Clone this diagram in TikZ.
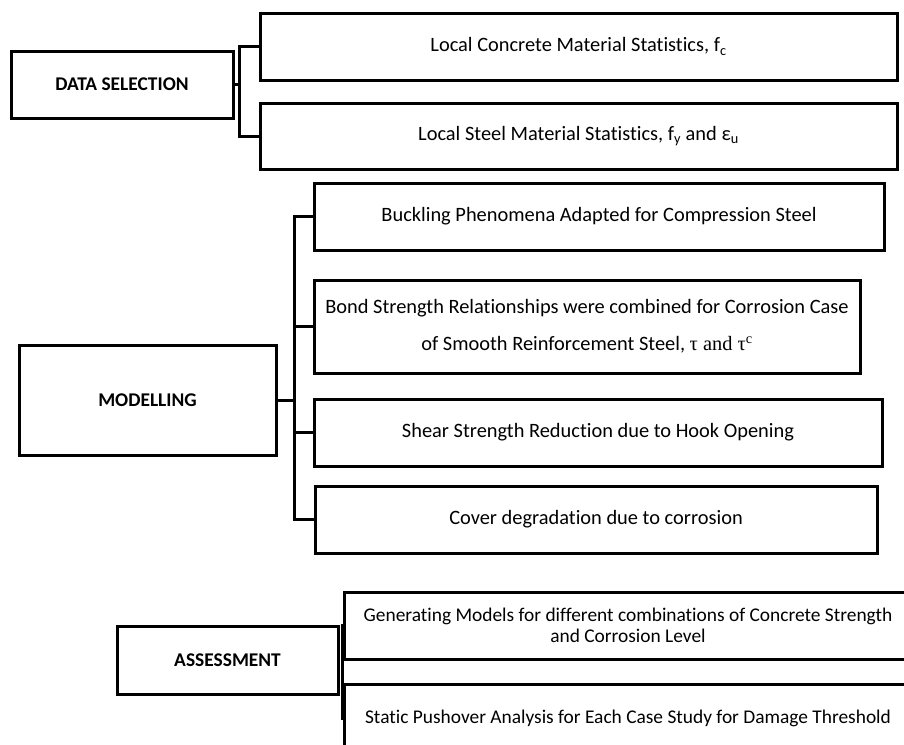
\documentclass[tikz,border=0pt]{standalone}
\usepackage{fontspec}
\setmainfont{Carlito}[Ligatures=NoCommon]
\newfontfamily\serifgreek{Liberation Serif}
\usetikzlibrary{calc}
\begin{document}
\begin{tikzpicture}[x=1pt,y=-1pt,
  box/.style={draw=black,line width=3pt,rectangle,inner sep=0pt,align=center,
    font=\fontsize{20.4}{24.5}\selectfont},
  headbox/.style={box,font=\fontsize{19.4}{23}\selectfont\bfseries},
  abox/.style={box,font=\fontsize{19.4}{21}\selectfont},
  link/.style={draw=black,line width=3pt,line join=miter}]
\useasboundingbox (0,0) rectangle (904,744);
\clip (0,0) rectangle (904,744);
\fill[white] (0,0) rectangle (904,744);
% DATA SELECTION
\node[headbox,minimum width=222pt,minimum height=67pt] (ds) at (122,84.5) {DATA SELECTION};
\node[box,minimum width=637pt,minimum height=67pt] (c1) at (578.5,46.5)
  {Local Concrete Material Statistics, f\textsubscript{c}};
\node[box,minimum width=637pt,minimum height=66pt] (c2) at (578.5,136)
  {Local Steel Material Statistics, f\textsubscript{y} and ε\textsubscript{u}};
\coordinate (dj) at ($(ds.east)+(5,0)$);
\draw[link] (ds.east) -- (dj);
\draw[link] (c1.west) -| (dj) |- (c2.west);
% MODELLING
\node[headbox,minimum width=257pt,minimum height=110pt] (md) at (147.5,400) {MODELLING};
\node[box,minimum width=570pt,minimum height=67pt] (b1) at (599,216.5)
  {Buckling Phenomena Adapted for Compression Steel};
\node[box,minimum width=546pt,minimum height=93pt] (b2) at (587,326.5)
  {Bond Strength Relationships were combined for Corrosion Case\\[12.5pt]
   of Smooth Reinforcement Steel, {\serifgreek τ and τ\textsuperscript{c}}};
\node[box,minimum width=568pt,minimum height=67pt] (b3) at (598,432.5)
  {Shear Strength Reduction due to Hook Opening};
\node[box,minimum width=562pt,minimum height=67pt] (b4) at (596,519.5)
  {Cover degradation due to corrosion};
\coordinate (mj) at ($(md.east)+(17,0)$);
\draw[link] (md.east) -- (mj);
\draw[link] (b1.west) -| (mj) |- (b4.west);
\draw[link] (b2.west) -- (b2.west -| mj);
\draw[link] (b3.west) -- (b3.west -| mj);
% ASSESSMENT
\node[headbox,minimum width=221pt,minimum height=68pt] (as) at (227.5,660) {ASSESSMENT};
\node[abox,minimum width=568pt,minimum height=67pt] (a1) at (628,625.5)
  {Generating Models for different combinations of Concrete Strength\\and Corrosion Level};
\node[abox,minimum width=568pt,minimum height=68pt] (a2) at (628,718)
  {Static Pushover Analysis for Each Case Study for Damage Threshold};
\coordinate (aj) at ($(as.east)+(2.5,0)$);
\draw[link] (a1.west) -| (aj) |- (a2.west);
\end{tikzpicture}
\end{document}
